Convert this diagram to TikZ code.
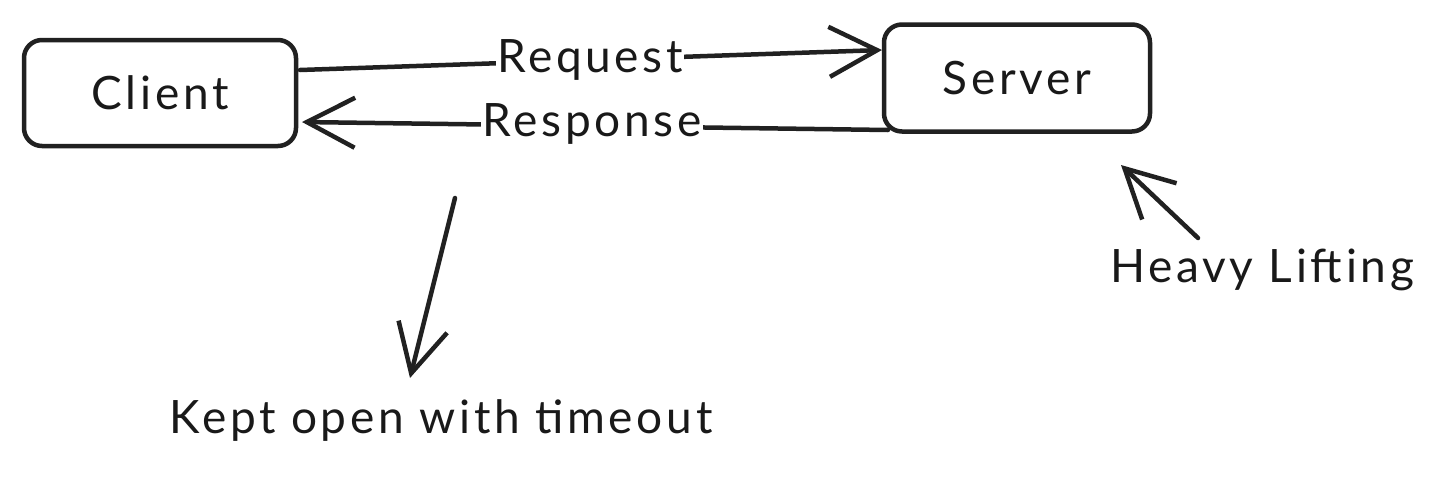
\documentclass[tikz,border=0pt]{standalone}
\usepackage{fontspec}
\setmainfont{Lato}[LetterSpace=8]
\usetikzlibrary{arrows.meta}
\begin{document}
\begin{tikzpicture}[x=1pt,y=-1pt,
  ink/.style={draw=black!87, line width=4.5pt, line cap=round, line join=round},
  boxnode/.style={ink, rounded corners=18pt, fill=white},
  txt/.style={font=\fontsize{46}{52}\selectfont, text=black!90, inner sep=2pt},
  lbl/.style={txt, fill=white, inner sep=1pt},
  arr/.style={ink, -{Straight Barb[length=48pt, width=50pt, line width=4.5pt]}}]
\useasboundingbox (0,0) rectangle (1446,480);
\node[boxnode, minimum width=272pt, minimum height=106pt] (client) at (160,93) {};
\node[txt] at (client.center) {Client};
\node[boxnode, minimum width=266pt, minimum height=107pt] (server) at (1017,78) {};
\node[txt] at (server.center) {Server};
\coordinate (rqs) at (300,70);
\coordinate (rqe) at (882,50);
\coordinate (rss) at (888,130);
\coordinate (rse) at (302,122);
\draw[arr] (rqs) -- (rqe);
\draw[arr] (rss) -- (rse);
\node[lbl] (req) at (590,60) {Request};
\node[lbl] (resp) at (592,124) {Response};
\node[txt] (kept) at (441,420) {Kept open with timeout};
\node[txt] (heavy) at (1262,270) {Heavy Lifting};
\coordinate (ks) at (455,198);
\coordinate (ke) at (410,378);
\draw[arr] (ks) -- (ke);
\coordinate (hs) at (1198,238);
\coordinate (he) at (1121,165);
\draw[arr] (hs) -- (he);
\end{tikzpicture}
\end{document}
